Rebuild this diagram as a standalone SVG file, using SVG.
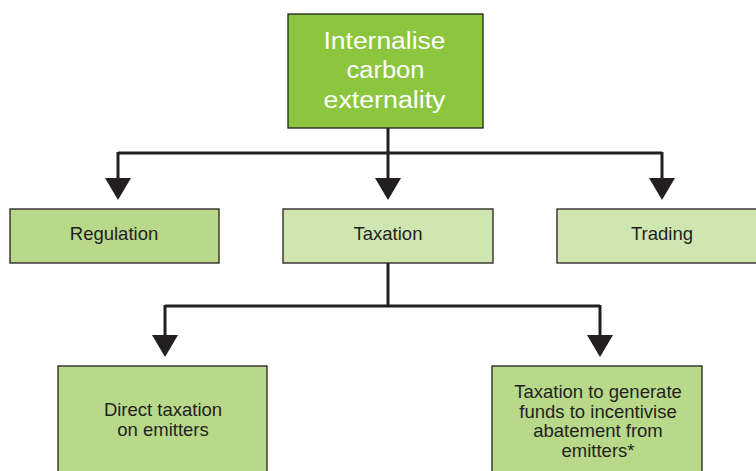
<svg xmlns="http://www.w3.org/2000/svg" width="756" height="471" viewBox="0 0 756 471">
<style>
.box{stroke:#231f20;stroke-width:1.3}
.dark{fill:#b9d98a}
.light{fill:#d0e6b0}
.t{font-family:"Liberation Sans",Arial,sans-serif;font-size:18.5px;fill:#231f20;text-anchor:middle}
.w{font-family:"Liberation Sans",Arial,sans-serif;font-size:23px;fill:#ffffff;text-anchor:middle}
.ln{fill:none;stroke:#231f20;stroke-width:3}
.ah{fill:#231f20}
</style>
<rect width="756" height="471" fill="#ffffff"/>
<g id="connectors">
<path class="ln" d="M388,128 V153"/>
<path class="ln" d="M118,153 H662"/>
<path class="ln" d="M118,152 V178"/>
<path class="ah" d="M105,178 H131 L118,200 Z"/>
<path class="ln" d="M388,153 V178"/>
<path class="ah" d="M375,178 H401 L388,200 Z"/>
<path class="ln" d="M662,152 V178"/>
<path class="ah" d="M649,178 H675 L662,200 Z"/>
<path class="ln" d="M388,263 V306"/>
<path class="ln" d="M165,306 H600"/>
<path class="ln" d="M165,305 V335"/>
<path class="ah" d="M152,335 H178 L165,357 Z"/>
<path class="ln" d="M600,305 V335"/>
<path class="ah" d="M587,335 H613 L600,357 Z"/>
</g>
<g id="root">
<rect class="box" x="288" y="14" width="195" height="114" fill="#8cc63f"/>
<text class="w" x="384.5" y="48.5" textLength="122" lengthAdjust="spacingAndGlyphs">Internalise</text>
<text class="w" x="385.5" y="78" textLength="78" lengthAdjust="spacingAndGlyphs">carbon</text>
<text class="w" x="384.5" y="107.5" textLength="122" lengthAdjust="spacingAndGlyphs">externality</text>
</g>
<g id="regulation">
<rect class="box dark" x="10" y="209" width="209" height="54"/>
<text class="t" x="114" y="240">Regulation</text>
</g>
<g id="taxation">
<rect class="box light" x="283" y="209" width="210" height="54"/>
<text class="t" x="388" y="240">Taxation</text>
</g>
<g id="trading">
<rect class="box light" x="557" y="209" width="210" height="54"/>
<text class="t" x="662" y="240">Trading</text>
</g>
<g id="direct">
<rect class="box dark" x="58" y="366" width="209" height="120"/>
<text class="t" x="163" y="416">Direct taxation</text>
<text class="t" x="163" y="436">on emitters</text>
</g>
<g id="funds">
<rect class="box dark" x="492" y="366" width="210" height="120"/>
<text class="t" x="598" y="398">Taxation to generate</text>
<text class="t" x="598" y="418">funds to incentivise</text>
<text class="t" x="598" y="437">abatement from</text>
<text class="t" x="598" y="457">emitters*</text>
</g>
</svg>
